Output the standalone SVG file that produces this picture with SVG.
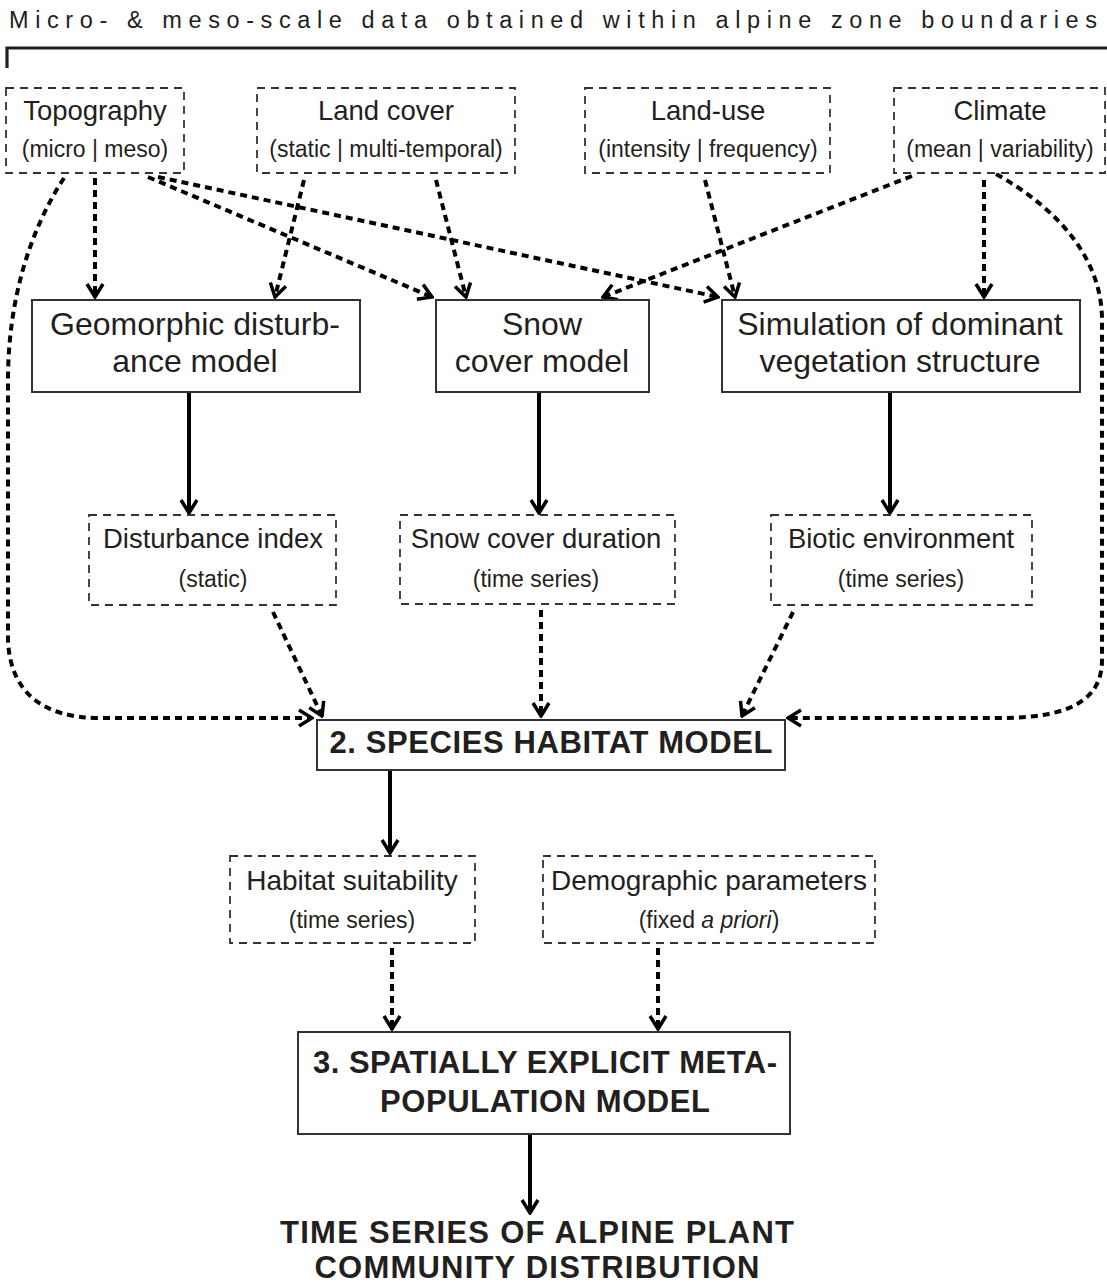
<svg xmlns="http://www.w3.org/2000/svg" width="1107" height="1285" viewBox="0 0 1107 1285">
<defs>
<style>
text{font-family:"Liberation Sans",Arial,sans-serif;fill:#231f20;text-anchor:middle}
.t{font-size:27.5px}
.t2{font-size:28px}
.s{font-size:23px}
.m{font-size:32px}
.b{font-size:31px;font-weight:bold}
.dbox{fill:#fff;stroke:#333;stroke-width:1.8;stroke-dasharray:8 6}
.sbox{fill:#fff;stroke:#333;stroke-width:2}
.dot{fill:none;stroke:#000;stroke-width:4;stroke-dasharray:7 5;marker-end:url(#ah)}
.sol{fill:none;stroke:#000;stroke-width:4;marker-end:url(#ah)}
</style>
<marker id="ah" viewBox="0 0 20 20" refX="18" refY="10" markerWidth="20" markerHeight="20" markerUnits="userSpaceOnUse" orient="auto">
<path d="M5,2 L18,10 L5,18" fill="none" stroke="#000" stroke-width="3.5" stroke-dasharray="none"/>
</marker>
</defs>
<rect width="1107" height="1285" fill="#fff"/>
<g id="header">
<text x="553" y="28" style="font-size:23.5px" textLength="1088" lengthAdjust="spacing">Micro- &amp; meso-scale data obtained within alpine zone boundaries</text>
<path d="M7,68 L7,48 L1107,48" fill="none" stroke="#231f20" stroke-width="3.2"/>
</g>
<g id="connectors">
<line class="dot" x1="95" y1="178" x2="95" y2="297"/>
<line class="dot" x1="148" y1="177" x2="432" y2="297"/>
<line class="dot" x1="158" y1="177" x2="718" y2="297"/>
<path class="dot" d="M64,178 C30,230 8,300 8,380 L8,640 C10,690 40,718 100,718 L312,718"/>
<line class="dot" x1="304" y1="180" x2="275" y2="297"/>
<line class="dot" x1="436" y1="180" x2="466" y2="297"/>
<line class="dot" x1="705" y1="180" x2="735" y2="297"/>
<line class="dot" x1="912" y1="176" x2="603" y2="297"/>
<line class="dot" x1="984" y1="180" x2="984" y2="297"/>
<path class="dot" d="M996,174 C1060,210 1102,260 1102,320 L1102,660 C1102,700 1070,718 1000,718 L788,718"/>
<line class="sol" x1="189" y1="392" x2="189" y2="513"/>
<line class="sol" x1="539" y1="392" x2="539" y2="513"/>
<line class="sol" x1="890" y1="392" x2="890" y2="513"/>
<line class="dot" x1="273" y1="612" x2="322" y2="716"/>
<line class="dot" x1="541" y1="610" x2="541" y2="716"/>
<line class="dot" x1="793" y1="612" x2="742" y2="716"/>
<line class="sol" x1="390" y1="770" x2="390" y2="853"/>
<line class="dot" x1="392" y1="948" x2="392" y2="1029"/>
<line class="dot" x1="658" y1="948" x2="658" y2="1029"/>
<line class="sol" x1="530" y1="1134" x2="530" y2="1213"/>
</g>
<g id="topography">
<rect class="dbox" x="6" y="88" width="178" height="85"/>
<text class="t" x="95" y="120">Topography</text>
<text class="s" x="95" y="157">(micro | meso)</text>
</g>
<g id="landcover">
<rect class="dbox" x="257" y="88" width="258" height="85"/>
<text class="t" x="386" y="120">Land cover</text>
<text class="s" x="386" y="157">(static | multi-temporal)</text>
</g>
<g id="landuse">
<rect class="dbox" x="585" y="88" width="245" height="85"/>
<text class="t" x="708" y="120">Land-use</text>
<text class="s" x="708" y="157">(intensity | frequency)</text>
</g>
<g id="climate">
<rect class="dbox" x="894" y="88" width="211" height="85"/>
<text class="t" x="1000" y="120">Climate</text>
<text class="s" x="1000" y="157">(mean | variability)</text>
</g>
<g id="geomorphic">
<rect class="sbox" x="32" y="300" width="328" height="92"/>
<text class="m" x="195" y="335">Geomorphic disturb-</text>
<text class="m" x="195" y="372">ance model</text>
</g>
<g id="snowmodel">
<rect class="sbox" x="436" y="300" width="213" height="92"/>
<text class="m" x="542" y="335">Snow</text>
<text class="m" x="542" y="372">cover model</text>
</g>
<g id="simulation">
<rect class="sbox" x="722" y="300" width="358" height="92"/>
<text class="m" x="900" y="335">Simulation of dominant</text>
<text class="m" x="900" y="372">vegetation structure</text>
</g>
<g id="disturbance">
<rect class="dbox" x="89" y="515" width="247" height="90"/>
<text class="t" x="213" y="548">Disturbance index</text>
<text class="s" x="213" y="587">(static)</text>
</g>
<g id="snowduration">
<rect class="dbox" x="400" y="515" width="275" height="89"/>
<text class="t" x="536" y="548">Snow cover duration</text>
<text class="s" x="536" y="587">(time series)</text>
</g>
<g id="biotic">
<rect class="dbox" x="771" y="515" width="261" height="90"/>
<text class="t" x="901" y="548">Biotic environment</text>
<text class="s" x="901" y="587">(time series)</text>
</g>
<g id="species">
<rect class="sbox" x="317" y="720" width="468" height="50"/>
<text class="b" x="551" y="753" textLength="443" lengthAdjust="spacing">2. SPECIES HABITAT MODEL</text>
</g>
<g id="habitat">
<rect class="dbox" x="230" y="856" width="245" height="87"/>
<text class="t2" x="352" y="890">Habitat suitability</text>
<text class="s" x="352" y="928">(time series)</text>
</g>
<g id="demographic">
<rect class="dbox" x="543" y="856" width="332" height="87"/>
<text class="t2" x="709" y="890">Demographic parameters</text>
<text class="s" x="709" y="928">(fixed <tspan font-style="italic">a priori</tspan>)</text>
</g>
<g id="metapop">
<rect class="sbox" x="298" y="1032" width="492" height="102"/>
<text class="b" x="545" y="1073" textLength="464" lengthAdjust="spacing">3. SPATIALLY EXPLICIT META-</text>
<text class="b" x="545" y="1112" textLength="330" lengthAdjust="spacing">POPULATION MODEL</text>
</g>
<g id="output">
<text class="b" x="537" y="1243" textLength="514" lengthAdjust="spacing">TIME SERIES OF ALPINE PLANT</text>
<text class="b" x="537" y="1278" textLength="445" lengthAdjust="spacing">COMMUNITY DISTRIBUTION</text>
</g>
</svg>
